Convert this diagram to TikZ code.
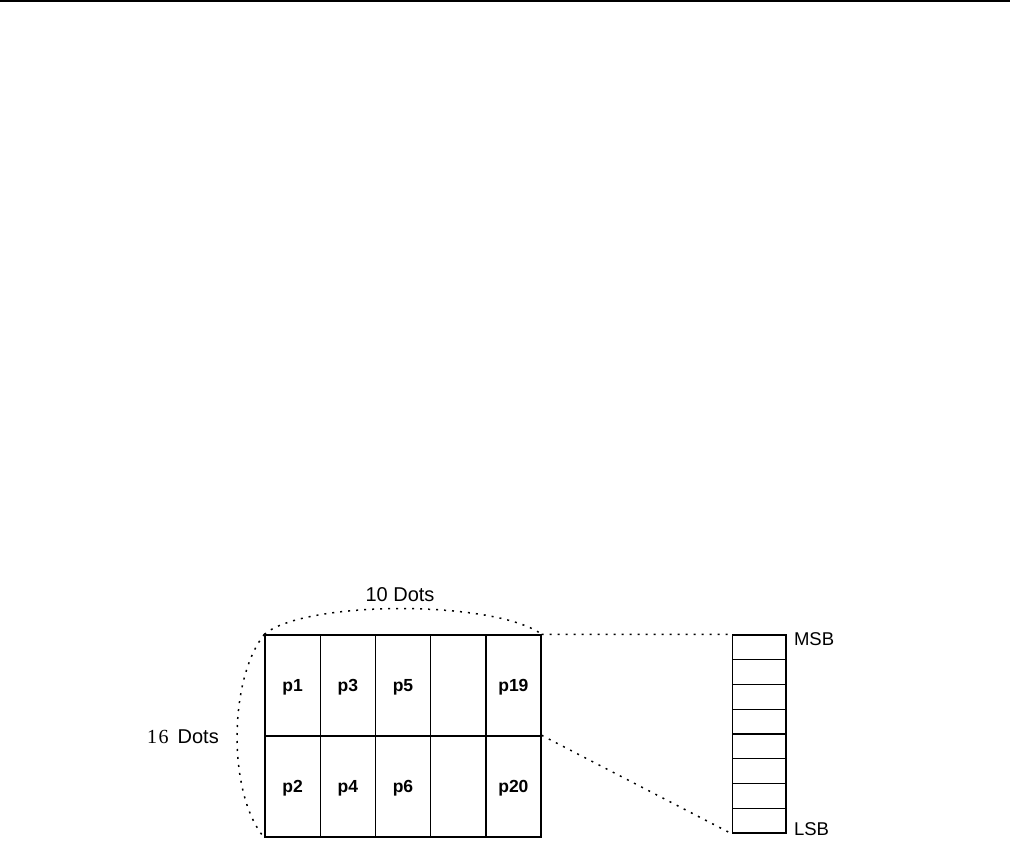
\documentclass[tikz,border=0pt]{standalone}
\usepackage{fontspec}
\setmainfont{Liberation Sans}
\newfontfamily\numserif{Liberation Serif}
\usetikzlibrary{positioning, calc}

\begin{document}
\begin{tikzpicture}[x=1pt, y=-1pt, line width=1.4pt,
    every node/.style={font=\fontsize{18.5}{21}\selectfont},
    dimlabel/.style={font=\fontsize{20}{23}\selectfont},
    cell/.style={draw, rectangle, minimum width=55.2pt, minimum height=101pt,
        inner sep=0pt, text depth=0pt, font=\fontsize{17.5}{20}\selectfont\bfseries},
    bitbox/.style={draw, rectangle, minimum width=53.7pt, minimum height=24.75pt, inner sep=0pt},
    dotline/.style={line width=1.5pt, dash pattern=on 2pt off 6pt}]
    \useasboundingbox (0,0) rectangle (1010,862);
    % rule at the top of the page
    \draw[line width=1.8pt] (0,0.9) -- (1010,0.9);
    % character matrix
    \foreach \i/\a/\b in {0/p1/p2,1/p3/p4,2/p5/p6,3//,4/p19/p20} {
        \node[cell] (up\i) at (292.6+55.2*\i,685.5) {\a};
        \node[cell] (lo\i) at (292.6+55.2*\i,786.5) {\b};
    }
    % one byte
    \foreach \b in {0,...,7} {
        \node[bitbox] (bit\b) at (759.2,647.4+24.75*\b) {};
    }
    \node[anchor=west] (msb) at (790,639.5) {MSB};
    \node[anchor=west] (lsb) at (790,829.5) {LSB};
    % dimensions
    \draw[dotline] (up0.north west) .. controls (305,600) and (495,600) .. (up4.north east);
    \draw[dotline] (up0.north west) .. controls (228,680) and (228,795) .. (lo0.south west);
    \node[dimlabel] (tendots) at (400,595) {10 Dots};
    \node[dimlabel] (sixteendots) at (183,737) {{\numserif 1\kern1.5pt6}\ \,Dots};
    % zoom onto the byte
    \draw[dotline] (up4.north east) -- (bit0.north west);
    \draw[dotline] (lo4.north east) -- (bit7.south west);
\end{tikzpicture}
\end{document}
